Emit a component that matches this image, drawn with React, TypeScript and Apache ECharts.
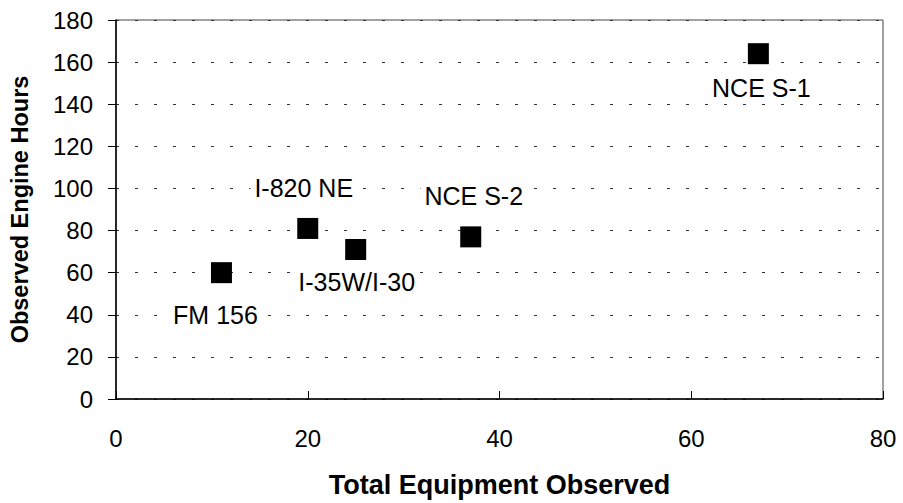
import React, { useEffect, useRef } from "react";
import * as echarts from "echarts";

const siteNames = ["FM 156", "I-820 NE", "I-35W/I-30", "NCE S-2", "NCE S-1"];
const totalEquipment = [11, 20, 25, 37, 67];
const engineHours = [60, 81, 71, 77, 164];

// label placement (style only)
const labelPos = ["bottom", "top", "bottom", "top", "bottom"];
const labelOffset: [number, number][] = [
  [-6, 14],
  [-4, -12],
  [1, 4],
  [3, -13],
  [3, 6],
];

const FONT = "'Liberation Sans', Arial, Helvetica, sans-serif";

export default function App() {
  const ref = useRef<HTMLDivElement>(null);
  useEffect(() => {
    if (!ref.current) return;
    const chart = echarts.init(ref.current, undefined, { renderer: "svg" });
    const data = totalEquipment.map((x, i) => ({
      value: [x, engineHours[i]],
      name: siteNames[i],
      label: {
        show: true,
        position: labelPos[i],
        offset: labelOffset[i],
        formatter: siteNames[i],
        color: "#000",
        fontSize: 25,
        fontFamily: FONT,
        backgroundColor: "#fff",
        padding: [0, 4],
      },
    }));
    chart.setOption({
      animation: false,
      backgroundColor: "#fff",
      grid: {
        left: 114,
        top: 20,
        right: 20,
        bottom: 102,
        show: true,
        borderColor: "#444",
        borderWidth: 1,
        backgroundColor: "transparent",
      },
      xAxis: {
        type: "value",
        min: 0,
        max: 80,
        interval: 20,
        name: "Total Equipment Observed",
        nameLocation: "middle",
        nameGap: 72,
        nameTextStyle: { fontSize: 27, fontWeight: "bold", color: "#000", fontFamily: FONT },
        axisLine: { show: true, lineStyle: { color: "#000", width: 1.5 } },
        axisTick: { show: true, inside: true, length: 8, lineStyle: { color: "#000" } },
        axisLabel: { margin: 27, fontSize: 24, color: "#000", fontFamily: FONT },
        splitLine: { show: false },
      },
      yAxis: {
        type: "value",
        min: 0,
        max: 180,
        interval: 20,
        name: "Observed Engine Hours",
        nameLocation: "middle",
        nameRotate: 90,
        nameGap: 84,
        nameTextStyle: { fontSize: 23.5, fontWeight: "bold", color: "#000", fontFamily: FONT },
        axisLine: { show: true, lineStyle: { color: "#000", width: 1.5 } },
        axisTick: { show: true, inside: false, length: 8, lineStyle: { color: "#000" } },
        axisLabel: { margin: 23, fontSize: 24, color: "#000", fontFamily: FONT },
        splitLine: {
          show: true,
          lineStyle: { color: "#333", type: [3, 16], width: 1 },
        },
      },
      series: [
        {
          type: "scatter",
          symbol: "rect",
          symbolSize: 21,
          itemStyle: { color: "#000", opacity: 1 },
          data,
        },
      ],
    });
    return () => chart.dispose();
  }, []);
  return (
    <div
      ref={ref}
      style={{ position: "fixed", left: 0, top: 0, width: 903, height: 503, background: "#fff" }}
    />
  );
}
